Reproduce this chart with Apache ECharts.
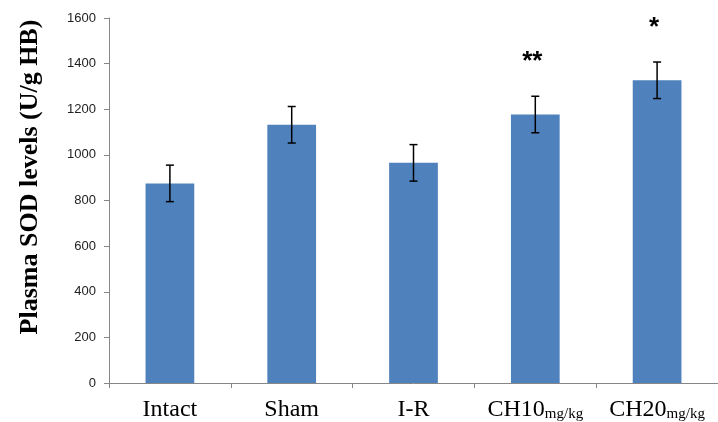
<!DOCTYPE html>
<html>
<head>
<meta charset="utf-8">
<script src="https://cdn.jsdelivr.net/npm/echarts@6/dist/echarts.min.js"></script>
<style>
html,body{margin:0;padding:0;background:#fff;}
#chart{width:718px;height:422px;}
</style>
</head>
<body>
<div id="chart"></div>
<script>
// ---- data ----
var categories = ['Intact', 'Sham', 'I-R', 'CH10', 'CH20'];
var categorySubs = ['', '', '', 'mg/kg', 'mg/kg'];
var meanValues = [875, 1132, 965, 1177, 1327];
var errorValues = [80, 80, 80, 80, 80];
var sigMarks = ['', '', '', '**', '*'];
var yTicks = [0, 200, 400, 600, 800, 1000, 1200, 1400, 1600];
var yTitle = 'Plasma SOD levels (U/g HB)';

var chart = echarts.init(document.getElementById('chart'), null, {renderer: 'canvas'});

var errData = meanValues.map(function (v, i) {
  return [i, v - errorValues[i], v + errorValues[i]];
});

var option = {
  backgroundColor: '#ffffff',
  animation: false,
  grid: {left: 109, top: 18, width: 622, bottom: 38, containLabel: false},
  graphic: [{
    type: 'text',
    x: 30,
    y: 177,
    rotation: Math.PI / 2,
    style: {
      text: yTitle,
      font: 'bold 26px "Liberation Serif"',
      fill: '#000',
      align: 'center',
      verticalAlign: 'middle'
    }
  }],
  xAxis: {
    type: 'category',
    data: categories,
    boundaryGap: true,
    axisLine: {lineStyle: {color: '#868686', width: 1}},
    axisTick: {show: true, alignWithLabel: false, length: 5, lineStyle: {color: '#868686'}},
    axisLabel: {
      margin: 13,
      interval: 0,
      formatter: function (val, idx) {
        var sub = categorySubs[idx];
        return '{m|' + val + '}' + (sub ? '{s|' + sub + '}' : '');
      },
      rich: {
        m: {fontFamily: 'Liberation Serif', fontSize: 24, color: '#000', verticalAlign: 'bottom', lineHeight: 26},
        s: {fontFamily: 'Liberation Serif', fontSize: 15, color: '#000', verticalAlign: 'bottom', lineHeight: 22}
      }
    },
    splitLine: {show: false}
  },
  yAxis: {
    type: 'value',
    min: yTicks[0],
    max: yTicks[yTicks.length - 1],
    interval: yTicks[1] - yTicks[0],
    axisLine: {show: true, lineStyle: {color: '#868686', width: 1}},
    axisTick: {show: true, length: 5, lineStyle: {color: '#868686'}},
    axisLabel: {
      margin: 13, fontFamily: 'Liberation Sans', fontSize: 13, color: '#222',
      formatter: function (v) { return String(v); }
    },
    splitLine: {show: false}
  },
  series: [{
    type: 'bar',
    data: meanValues,
    barCategoryGap: '60%',
    itemStyle: {color: '#4F81BD'}
  }, {
    type: 'custom',
    data: errData,
    z: 10,
    renderItem: function (params, api) {
      var x = api.value(0);
      var lo = api.coord([x, api.value(1)]);
      var hi = api.coord([x, api.value(2)]);
      var cap = 4;
      var st = {stroke: '#000', lineWidth: 1.5};
      var children = [
        {type: 'line', shape: {x1: hi[0], y1: hi[1], x2: lo[0], y2: lo[1]}, style: st},
        {type: 'line', shape: {x1: hi[0] - cap, y1: hi[1], x2: hi[0] + cap, y2: hi[1]}, style: st},
        {type: 'line', shape: {x1: lo[0] - cap, y1: lo[1], x2: lo[0] + cap, y2: lo[1]}, style: st}
      ];
      var mark = sigMarks[params.dataIndex];
      if (mark) {
        children.push({
          type: 'text',
          x: hi[0] - 3,
          y: hi[1] - 34,
          style: {text: mark, font: 'bold 26px "Liberation Sans"', fill: '#000', align: 'center', verticalAlign: 'middle'}
        });
      }
      return {type: 'group', children: children};
    }
  }]
};
chart.setOption(option);
</script>
</body>
</html>
